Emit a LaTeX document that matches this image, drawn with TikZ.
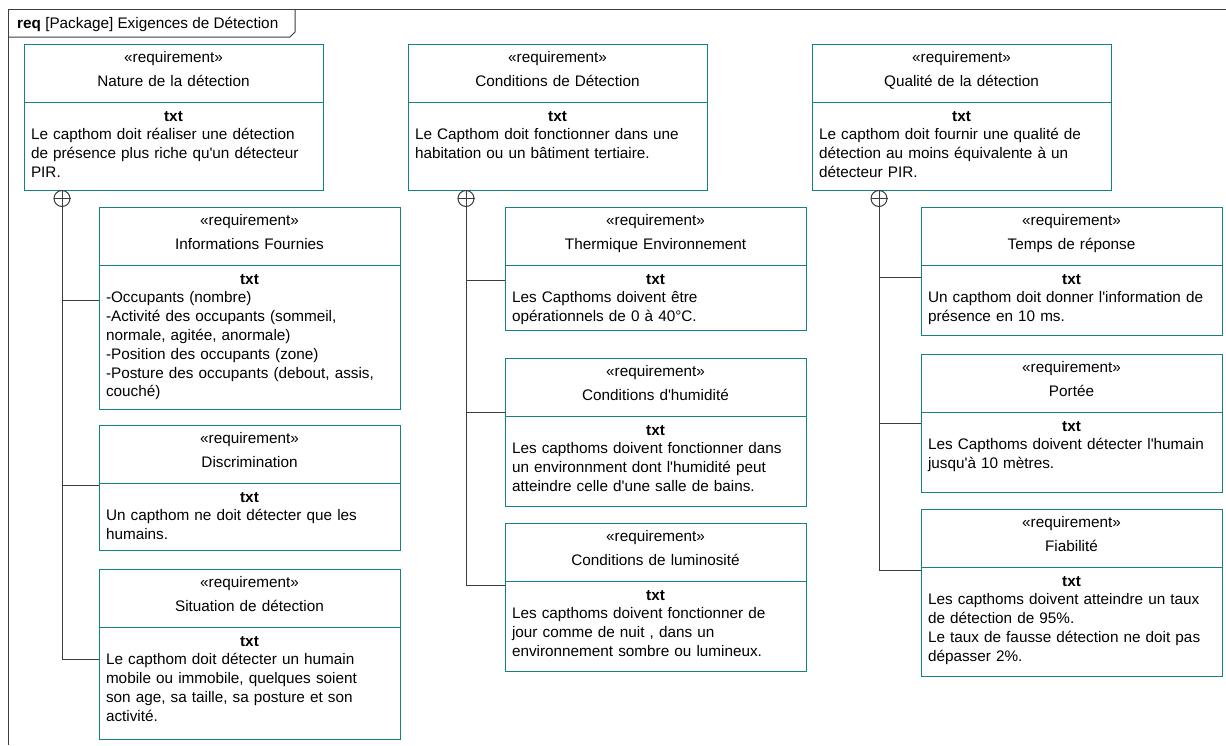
\documentclass[tikz,border=0pt]{standalone}
\usepackage{fontspec}
\setmainfont{Liberation Sans}[Ligatures=TeXOff]
\usepackage{tikz}
\usetikzlibrary{positioning, calc}
\definecolor{ReqTeal}{RGB}{20,130,130}
\definecolor{LineGray}{RGB}{60,60,60}
\newcommand{\txtrow}{\makebox[\linewidth]{\textbf{txt}}}

\begin{document}
\begin{tikzpicture}[
  x=1pt, y=-1pt,
  reqhead/.style={rectangle, draw=ReqTeal, line width=1pt, inner sep=0pt,
                  outer sep=0pt, text width=#1, align=center,
                  text height=18.5pt, text depth=39.5pt,
                  font=\fontsize{15.3}{24}\selectfont},
  reqhead/.default=301pt,
  reqbody/.style={rectangle, draw=ReqTeal, line width=1pt, inner xsep=7pt,
                  inner ysep=0pt, outer sep=0pt, text width=#1, align=left,
                  text height=19pt, font=\fontsize{15.3}{18.8}\selectfont},
  reqbody/.default=287pt,
  contain/.style={circle, draw=LineGray, line width=1pt, minimum size=16pt,
                  inner sep=0pt, anchor=north},
  conn/.style={draw=LineGray, line width=1pt},
  frameline/.style={draw=LineGray, line width=1pt}
]
\useasboundingbox[fill=white] (0,0) rectangle (1226,745);

% frame
\draw[frameline] (8,745) -- (8,9) -- (1226,9);
\draw[frameline] (8,37) -- (290,37) -- (295,32) -- (295,9);
\node[anchor=west, inner sep=0pt, font=\fontsize{15.3}{18}\selectfont]
    (frametitle) at (17,24) {\textbf{req} [Package] Exigences de Détection};

% parents
\node[reqhead=299pt, anchor=north west] (natureH) at (24,44)
    {«requirement»\\Nature de la détection};
\node[reqbody=285pt, below=0pt of natureH, text depth=69pt] (nature)
    {\txtrow\\Le capthom doit réaliser une détection\\de présence plus riche qu'un détecteur\\PIR.};

\node[reqhead=299pt, anchor=north west] (conditionsH) at (408,44)
    {«requirement»\\Conditions de Détection};
\node[reqbody=285pt, below=0pt of conditionsH, text depth=69pt] (conditions)
    {\txtrow\\Le Capthom doit fonctionner dans une\\habitation ou un bâtiment tertiaire.};

\node[reqhead=299pt, anchor=north west] (qualiteH) at (812,44)
    {«requirement»\\Qualité de la détection};
\node[reqbody=285pt, below=0pt of qualiteH, text depth=69pt] (qualite)
    {\txtrow\\Le capthom doit fournir une qualité de\\détection au moins équivalente à un\\détecteur PIR.};

% column 1
\node[reqhead, anchor=north west] (infosH) at (99,207)
    {«requirement»\\Informations Fournies};
\node[reqbody, below=0pt of infosH, text depth=125pt] (infos)
    {\txtrow\\-Occupants (nombre)\\-Activité des occupants (sommeil,\\normale, agitée, anormale)\\-Position des occupants (zone)\\-Posture des occupants (debout, assis,\\couché)};

\node[reqhead, below=16pt of infos] (discrimH)
    {«requirement»\\Discrimination};
\node[reqbody, below=0pt of discrimH, text depth=48pt] (discrim)
    {\txtrow\\Un capthom ne doit détecter que les\\humains.};

\node[reqhead, below=19pt of discrim] (situationH)
    {«requirement»\\Situation de détection};
\node[reqbody, below=0pt of situationH, text depth=93pt] (situation)
    {\txtrow\\Le capthom doit détecter un humain\\mobile ou immobile, quelques soient\\son age, sa taille, sa posture et son\\activité.};

% column 2
\node[reqhead, anchor=north west] (thermiqueH) at (505,207)
    {«requirement»\\Thermique Environnement};
\node[reqbody, below=0pt of thermiqueH, text depth=46pt] (thermique)
    {\txtrow\\Les Capthoms doivent être\\opérationnels de 0 à 40°C.};

\node[reqhead, below=28pt of thermique] (humiditeH)
    {«requirement»\\Conditions d'humidité};
\node[reqbody, below=0pt of humiditeH, text depth=71pt] (humidite)
    {\txtrow\\Les capthoms doivent fonctionner dans\\un environnment dont l'humidité peut\\atteindre celle d'une salle de bains.};

\node[reqhead, below=17pt of humidite] (luminositeH)
    {«requirement»\\Conditions de luminosité};
\node[reqbody, below=0pt of luminositeH, text depth=71pt] (luminosite)
    {\txtrow\\Les capthoms doivent fonctionner de\\jour comme de nuit , dans un\\environnement sombre ou lumineux.};

% column 3
\node[reqhead, anchor=north west] (tempsH) at (921,207)
    {«requirement»\\Temps de réponse};
\node[reqbody, below=0pt of tempsH, text depth=51pt] (temps)
    {\txtrow\\Un capthom doit donner l'information de\\présence en 10 ms.};

\node[reqhead, below=19pt of temps] (porteeH)
    {«requirement»\\Portée};
\node[reqbody, below=0pt of porteeH, text depth=61pt] (portee)
    {\txtrow\\Les Capthoms doivent détecter l'humain\\jusqu'à 10 mètres.};

\node[reqhead, below=17pt of portee] (fiabiliteH)
    {«requirement»\\Fiabilité};
\node[reqbody, below=0pt of fiabiliteH, text depth=90pt] (fiabilite)
    {\txtrow\\Les capthoms doivent atteindre un taux\\de détection de 95\%.\\Le taux de fausse détection ne doit pas\\dépasser 2\%.};

% containment
\node[contain] (plusA) at ([xshift=38pt]nature.south west) {};
\node[contain] (plusB) at ([xshift=58pt]conditions.south west) {};
\node[contain] (plusC) at ([xshift=67pt]qualite.south west) {};
\foreach \p in {plusA, plusB, plusC}
  \draw[conn] (\p.north) -- (\p.south) (\p.west) -- (\p.east);

\draw[conn] (plusA.south) |- ([yshift=-35pt]infos.north west);
\draw[conn] (plusA.south) |- ([yshift=-2pt]discrim.north west);
\draw[conn] (plusA.south) |- ([yshift=-32pt]situation.north west);

\draw[conn] (plusB.south) |- ([yshift=-15pt]thermique.north west);
\draw[conn] (plusB.south) |- ([yshift=4pt]humidite.north west);
\draw[conn] (plusB.south) |- ([yshift=-4pt]luminosite.north west);

\draw[conn] (plusC.south) |- ([yshift=-12pt]temps.north west);
\draw[conn] (plusC.south) |- ([yshift=-11pt]portee.north west);
\draw[conn] (plusC.south) |- ([yshift=-3pt]fiabilite.north west);

\end{tikzpicture}
\end{document}
